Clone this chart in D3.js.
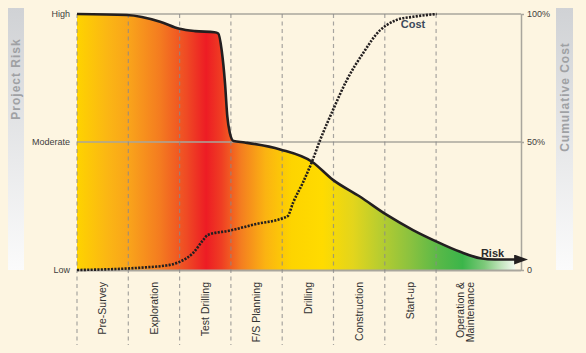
<!DOCTYPE html>
<html lang="en">
<head>
<meta charset="UTF-8">
<title>Project risk and cumulative cost</title>
<script src="https://d3js.org/d3.v7.min.js"></script>
<style>
    body {
        margin: 0;
        background: #fdf5e1;
    }
    svg {
        display: block;
        font-family: 'Liberation Sans', Arial, Helvetica, sans-serif;
    }
    .grid {
        stroke: #a9a69d;
        stroke-width: 1.3;
        fill: none;
    }
    .vline {
        stroke: #8a8a8a;
        stroke-width: 1.2;
        stroke-dasharray: 4, 3.5;
        opacity: 0.75;
    }
    .axis text {
        fill: #3d3d3d;
        font-size: 9px;
    }
    .phase {
        fill: #333;
        font-size: 10.5px;
    }
    .band-title {
        fill: #9fa1a4;
        font-size: 12px;
        font-weight: bold;
        letter-spacing: 1px;
    }
</style>
</head>
<body>
<script>
// phases along the bottom
var phases = ["Pre-Survey", "Exploration", "Test Drilling", "F/S Planning",
    "Drilling", "Construction", "Start-up", "Operation & Maintenance"];

// risk curve (x in phase units, y in % of High)
var riskX = [0, 0.97, 1.62, 2.0, 2.3, 2.68, 2.754, 2.82, 2.885, 2.93, 2.98, 3.05, 3.27,
    3.96, 4.58, 4.99, 5.52, 6.04, 6.55, 7.01, 7.47, 7.86, 8.15, 8.54];
var riskY = [100, 99.6, 97, 94.2, 93.3, 92.9, 92.4, 85.9, 73, 60, 53.5, 50.4, 49.8,
    47.1, 42.3, 35.2, 28.6, 21.5, 15.6, 11.1, 7.1, 4.6, 4.1, 4.1];

// cumulative cost curve (%)
var costX = [0, 1.23, 1.81, 2.0, 2.26, 2.46, 2.55, 2.98, 3.5, 4.02, 4.11, 4.21, 4.41,
    4.58, 4.74, 4.99, 5.26, 5.58, 5.91, 6.04, 6.23, 6.55, 7.01];
var costY = [0, 0.9, 2.0, 3.2, 6.6, 11.7, 13.7, 15.4, 18, 20.3, 21.1, 26.2, 34.4,
    42.3, 50.8, 62.5, 74.2, 84.8, 93.7, 95.7, 97.7, 98.9, 100];

var riskTicks = [0, 50, 100];
var riskLabels = ["Low", "Moderate", "High"];
var costTicks = [0, 50, 100];
var costLabels = ["0", "50%", "100%"];

(function() {
    var W = 586, H = 353;
    var pL = 77, pR = 521, pT = 14, pB = 270;

    var svg = d3.select("body").append("svg")
        .attr("width", W)
        .attr("height", H);

    var x = d3.scaleLinear().domain([0, 8.655]).range([pL, pR]);
    var y = d3.scaleLinear().domain([0, 100]).range([pB, pT]);

    var defs = svg.append("defs");

    // horizontal risk colour ramp
    var ramp = defs.append("linearGradient")
        .attr("id", "ramp")
        .attr("gradientUnits", "userSpaceOnUse")
        .attr("x1", x(0)).attr("x2", x(8.54))
        .attr("y1", 0).attr("y2", 0);
    [[0, "#fed300"], [0.07, "#fbb614"], [0.12, "#f9a31b"], [0.19, "#f47b20"],
     [0.25, "#ef4a24"], [0.295, "#ed1c24"], [0.33, "#ef3e23"], [0.375, "#f47e20"],
     [0.43, "#fbb312"], [0.49, "#fdd400"], [0.56, "#ffdb00"], [0.63, "#e3d51c"],
     [0.69, "#b9cd2f"], [0.76, "#8bc23f"], [0.83, "#56b848"], [0.88, "#3bb54a"],
     [0.93, "#7dc97a"], [0.97, "#c5e6c0"], [1, "#f3f9f0"]].forEach(function(s) {
        ramp.append("stop").attr("offset", s[0]).attr("stop-color", s[1]);
    });

    var side = defs.append("linearGradient")
        .attr("id", "side")
        .attr("x1", 0).attr("x2", 0).attr("y1", 0).attr("y2", 1);
    side.append("stop").attr("offset", 0).attr("stop-color", "#d0d2d5");
    side.append("stop").attr("offset", 1).attr("stop-color", "#fbfbfb");

    defs.append("marker")
        .attr("id", "arrow")
        .attr("markerUnits", "userSpaceOnUse")
        .attr("viewBox", "0 0 14 10")
        .attr("refX", 1).attr("refY", 5)
        .attr("markerWidth", 14).attr("markerHeight", 10)
        .attr("orient", "auto")
        .append("path")
        .attr("d", "M0,0 L14,5 L0,10 Z")
        .attr("fill", "#231f20");

    // side title bands
    svg.append("rect").attr("x", 8).attr("y", 8).attr("width", 16).attr("height", pB - 8)
        .attr("fill", "url(#side)");
    svg.append("text").attr("class", "band-title")
        .attr("transform", "translate(16,79) rotate(-90)")
        .attr("text-anchor", "middle").attr("dy", "0.36em")
        .text("Project Risk");

    svg.append("rect").attr("x", 556).attr("y", 8).attr("width", 17).attr("height", pB - 8)
        .attr("fill", "url(#side)");
    svg.append("text").attr("class", "band-title")
        .attr("transform", "translate(565,97) rotate(-90)")
        .attr("text-anchor", "middle").attr("dy", "0.36em")
        .text("Cumulative Cost");

    // top grid line
    svg.append("line").attr("class", "grid")
        .attr("x1", x(0)).attr("x2", pR)
        .attr("y1", y(100)).attr("y2", y(100));

    // risk area
    var pts = riskX.map(function(v, i) { return [v, riskY[i]]; });
    svg.append("path")
        .datum(pts)
        .attr("fill", "url(#ramp)")
        .attr("d", d3.area()
            .x(function(d) { return x(d[0]); })
            .y0(y(0))
            .y1(function(d) { return y(d[1]); })
            .curve(d3.curveMonotoneX));

    // moderate + bottom lines
    svg.append("line").attr("class", "grid")
        .attr("x1", x(0)).attr("x2", pR)
        .attr("y1", y(50)).attr("y2", y(50));
    svg.append("line").attr("class", "grid")
        .style("stroke-width", 2)
        .attr("x1", x(0)).attr("x2", pR)
        .attr("y1", y(0) + 0.5).attr("y2", y(0) + 0.5);

    // dashed phase dividers
    svg.selectAll(".vline")
        .data(d3.range(phases.length))
        .enter().append("line")
        .attr("class", "vline")
        .attr("x1", function(d) { return x(d); })
        .attr("x2", function(d) { return x(d); })
        .attr("y1", y(100))
        .attr("y2", 345);

    // axes
    var yLeft = d3.axisLeft(y)
        .tickValues(riskTicks)
        .tickSize(0)
        .tickPadding(7)
        .tickFormat(function(d, i) { return riskLabels[i]; });
    svg.append("g").attr("class", "axis")
        .attr("transform", "translate(" + pL + ",0)")
        .call(yLeft)
        .call(function(g) { g.select(".domain").remove(); });

    var yRight = d3.axisRight(y)
        .tickValues(costTicks)
        .tickSizeInner(3)
        .tickSizeOuter(0)
        .tickPadding(3)
        .tickFormat(function(d, i) { return costLabels[i]; });
    svg.append("g").attr("class", "axis")
        .attr("transform", "translate(" + pR + ",0)")
        .call(yRight)
        .call(function(g) {
            g.selectAll(".domain, line").attr("stroke", "#a9a69d").attr("stroke-width", 1.5);
        });

    // risk line
    svg.append("path")
        .datum(pts)
        .attr("fill", "none")
        .attr("stroke", "#231f20")
        .attr("stroke-width", 2.6)
        .attr("marker-end", "url(#arrow)")
        .attr("d", d3.line()
            .x(function(d) { return x(d[0]); })
            .y(function(d) { return y(d[1]); })
            .curve(d3.curveMonotoneX));

    // cost line
    svg.append("path")
        .datum(costX.map(function(v, i) { return [v, costY[i]]; }))
        .attr("fill", "none")
        .attr("stroke", "#231f20")
        .attr("stroke-width", 2.6)
        .attr("stroke-dasharray", "2.1,1.3")
        .attr("d", d3.line()
            .x(function(d) { return x(d[0]); })
            .y(function(d) { return y(d[1]); })
            .curve(d3.curveMonotoneX));

    svg.append("text")
        .attr("x", x(6.55)).attr("y", y(98.9) + 11)
        .attr("text-anchor", "middle")
        .attr("fill", "#3c4a5b")
        .style("font-size", "11px").style("font-weight", "bold")
        .text("Cost");

    svg.append("text")
        .attr("x", x(8.1)).attr("y", y(4.1) - 3)
        .attr("text-anchor", "middle")
        .attr("fill", "#2b2b2b")
        .style("font-size", "11px").style("font-weight", "bold")
        .text("Risk");

    // phase labels
    var labels = svg.selectAll(".phase")
        .data(phases)
        .enter().append("text")
        .attr("class", "phase")
        .attr("text-anchor", "end")
        .attr("transform", function(d, i) {
            return "translate(" + x(i + 0.5) + ",282) rotate(-90)";
        });
    labels.each(function(d) {
        var t = d3.select(this);
        var parts = d.indexOf("&") > 0 ? ["Operation &", "Maintenance"] : [d];
        parts.forEach(function(p, j) {
            t.append("tspan")
                .attr("x", 0)
                .attr("y", parts.length > 1 ? (j === 0 ? -1.5 : 8.5) : 0)
                .attr("dy", "0.36em")
                .text(p);
        });
    });
})();
</script>
</body>
</html>
